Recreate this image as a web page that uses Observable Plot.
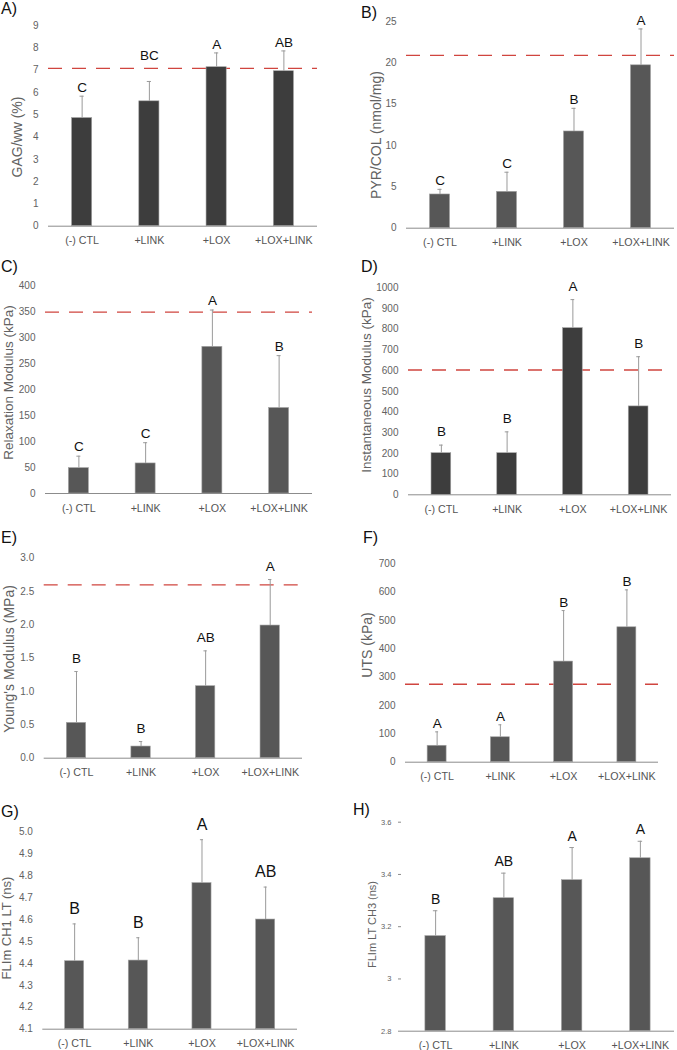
<!DOCTYPE html>
<html>
<head>
<meta charset="utf-8">
<script src="https://cdn.jsdelivr.net/npm/d3@7"></script>
<script src="https://cdn.jsdelivr.net/npm/@observablehq/plot@0.6"></script>
<style>
  body { margin: 0; background: #fff; }
  #fig { position: relative; width: 677px; height: 1050px; overflow: hidden; font-family: "Liberation Sans", Arial, sans-serif; }
  .panel { position: absolute; }
  #labels { position: absolute; left: 0; top: 0; pointer-events: none; }
</style>
</head>
<body>
<div id="fig"></div>
<script>
// ---------- data ----------
const groups = ["(-) CTL", "+LINK", "+LOX", "+LOX+LINK"];

const gagMean = [4.85, 5.6, 7.13, 6.95];
const gagSD = [0.98, 0.89, 0.64, 0.91];
const gagLetters = ["C", "BC", "A", "AB"];
const gagRef = 7.08;
const gagTicks = [0, 1, 2, 3, 4, 5, 6, 7, 8, 9];

const pyrMean = [4.08, 4.4, 11.7, 19.7];
const pyrSD = [0.62, 2.37, 2.8, 4.4];
const pyrLetters = ["C", "C", "B", "A"];
const pyrRef = 20.9;
const pyrTicks = [0, 5, 10, 15, 20, 25];

const relaxMean = [49, 58, 283, 165];
const relaxSD = [23, 40, 71, 101];
const relaxLetters = ["C", "C", "A", "B"];
const relaxRef = 350;
const relaxTicks = [0, 50, 100, 150, 200, 250, 300, 350, 400];

const instMean = [201, 201, 805, 427];
const instSD = [39, 103, 138, 240];
const instLetters = ["B", "B", "A", "B"];
const instRef = 603;
const instTicks = [0, 100, 200, 300, 400, 500, 600, 700, 800, 900, 1000];

const youngMean = [0.53, 0.175, 1.08, 1.99];
const youngSD = [0.77, 0.075, 0.53, 0.69];
const youngLetters = ["B", "B", "AB", "A"];
const youngRef = 2.6;
const youngTicks = [0, 0.5, 1, 1.5, 2, 2.5, 3];

const utsMean = [58, 88, 355, 476];
const utsSD = [49, 44, 180, 132];
const utsLetters = ["A", "A", "B", "B"];
const utsRef = 275;
const utsTicks = [0, 100, 200, 300, 400, 500, 600, 700];

const ch1Mean = [4.41, 4.413, 4.766, 4.6];
const ch1SD = [0.17, 0.104, 0.198, 0.148];
const ch1Letters = ["B", "B", "A", "AB"];
const ch1Ticks = [4.1, 4.2, 4.3, 4.4, 4.5, 4.6, 4.7, 4.8, 4.9, 5.0];

const ch3Mean = [3.164, 3.309, 3.378, 3.462];
const ch3SD = [0.097, 0.096, 0.125, 0.065];
const ch3Letters = ["B", "AB", "A", "A"];
const ch3Ticks = [2.8, 3.0, 3.2, 3.4, 3.6];

// ---------- panel configuration ----------
const dark = "#3d3d3d", mid = "#575757";
const f0 = d3.format("d"), f1 = d3.format(".1f"), fg = d => String(+d.toFixed(1));

const panels = [
  {label: "A)", lx: 1, ly: 13.5, left: 0, top: 0, w: 338, h: 265, mL: 48, mT: 25, mB: 39.3, mR: 21,
   mean: gagMean, sd: gagSD, letters: gagLetters, ref: gagRef, ticks: gagTicks, domain: [0, 9], fmt: f0,
   fill: dark, title: "GAG/ww (%)", tx: 22, ty: 137, tsize: 14, gap: 4, lsize: 13.5, lift: [0, 17, 0, 0]},
  {label: "B)", lx: 361, ly: 18, left: 338, top: 0, w: 339, h: 265, mL: 68, mT: 21, mB: 37.3, mR: 3,
   mean: pyrMean, sd: pyrSD, letters: pyrLetters, ref: pyrRef, ticks: pyrTicks, domain: [0, 25], fmt: f0,
   fill: mid, title: "PYR/COL (nmol/mg)", tx: 42.5, ty: 135, tsize: 14, gap: 4, lsize: 13.5},
  {label: "C)", lx: 1, ly: 271.5, left: 0, top: 265, w: 338, h: 265, mL: 45, mT: 20.7, mB: 37, mR: 26,
   mean: relaxMean, sd: relaxSD, letters: relaxLetters, ref: relaxRef, ticks: relaxTicks, domain: [0, 400], fmt: f0,
   fill: mid, title: "Relaxation Modulus (kPa)", tx: 12.5, ty: 117.5, tsize: 13.5, gap: 5, lsize: 13.5},
  {label: "D)", lx: 361, ly: 271.5, left: 338, top: 265, w: 339, h: 265, mL: 70, mT: 22.3, mB: 35.7, mR: 6,
   mean: instMean, sd: instSD, letters: instLetters, ref: instRef, ticks: instTicks, domain: [0, 1000], fmt: f0,
   fill: dark, title: "Instantaneous Modulus (kPa)", tx: 32.5, ty: 120, tsize: 13.5, gap: 9, lsize: 13.5},
  {label: "E)", lx: 1, ly: 543, left: 0, top: 530, w: 338, h: 260, mL: 43.7, mT: 27.7, mB: 32.3, mR: 36,
   mean: youngMean, sd: youngSD, letters: youngLetters, ref: youngRef, ticks: youngTicks, domain: [0, 3], fmt: f1,
   fill: mid, title: "Young's Modulus (MPa)", tx: 14, ty: 129, tsize: 14, gap: 9, lsize: 13.5},
  {label: "F)", lx: 363, ly: 543, left: 338, top: 530, w: 339, h: 260, mL: 67, mT: 33.3, mB: 28.3, mR: 19,
   mean: utsMean, sd: utsSD, letters: utsLetters, ref: utsRef, ticks: utsTicks, domain: [0, 700], fmt: f0,
   fill: mid, title: "UTS (kPa)", tx: 34, ty: 115, tsize: 14, gap: 4, lsize: 13.5},
  {label: "G)", lx: 1, ly: 816.5, left: 0, top: 790, w: 338, h: 260, mL: 42.3, mT: 41.3, mB: 21.3, mR: 41,
   mean: ch1Mean, sd: ch1SD, letters: ch1Letters, ref: null, ticks: ch1Ticks, domain: [4.1, 5.0], fmt: f1,
   fill: mid, title: "FLIm CH1 LT (ns)", tx: 10.5, ty: 138, tsize: 13, gap: 10, lsize: 16},
  {label: "H)", lx: 353, ly: 814.5, left: 338, top: 790, w: 339, h: 260, mL: 63, mT: 31.7, mB: 19.3, mR: 3,
   mean: ch3Mean, sd: ch3SD, letters: ch3Letters, ref: null, ticks: ch3Ticks, domain: [2.8, 3.6], fmt: fg,
   fill: mid, title: "FLIm LT CH3 (ns)", tx: 38, ty: 134.5, tsize: 11, gap: 7, lsize: 14,
   ytick: 3, yfont: 7.5}
];

const fig = document.getElementById("fig");
const axisGray = "#8c8c8c";
const errGray = "#9a9a9a";
const textGray = "#626262";

for (const p of panels) {
  const lift = p.lift || [0, 0, 0, 0];
  const data = groups.map((g, i) => ({g, v: p.mean[i], top: p.mean[i] + p.sd[i], letter: p.letters[i], lift: lift[i]}));
  const marks = [];
  if (p.ref != null) {
    marks.push(Plot.ruleY([p.ref], {stroke: "#d0453f", strokeWidth: 1.3, strokeDasharray: "14,10"}));
  }
  marks.push(
    Plot.barY(data, {x: "g", y1: p.domain[0], y2: "v", fill: p.fill, stroke: "#a5a5a5", strokeWidth: 0.6}),
    Plot.ruleX(data, {x: "g", y1: "v", y2: "top", stroke: errGray, strokeWidth: 1}),
    Plot.tickY(data, {x: "g", y: "top", stroke: errGray, strokeWidth: 1, insetLeft: 8, insetRight: 8})
  );
  for (const L of Array.from(new Set(lift))) {
    marks.push(Plot.text(data, {filter: d => d.lift === L, x: "g", y: "top", text: "letter",
      dy: -(p.gap + L), lineAnchor: "bottom", fontSize: p.lsize, fill: "#111"}));
  }
  marks.push(
    Plot.ruleY([p.domain[0]], {stroke: axisGray, strokeWidth: 1}),
    Plot.axisY({ticks: p.ticks, tickFormat: p.fmt, tickSize: p.ytick || 0, tickPadding: p.ytick ? 7 : 10,
      fontSize: p.yfont || 10, fill: textGray, stroke: axisGray, line: true, label: null}),
    Plot.axisX({tickSize: 0, tickPadding: 10.5, fontSize: 10.7, fill: "#555", label: null})
  );
  const svg = Plot.plot({
    width: p.w, height: p.h,
    marginLeft: p.mL, marginRight: p.mR, marginTop: p.mT, marginBottom: p.mB,
    x: {type: "band", domain: groups, paddingInner: 0.7, paddingOuter: 0.35, round: false},
    y: {domain: p.domain, nice: false, zero: false},
    style: {fontFamily: "'Liberation Sans', Arial, sans-serif", background: "transparent", overflow: "visible"},
    marks
  });
  d3.select(svg).append("text")
    .attr("transform", `translate(${p.tx},${p.ty}) rotate(-90)`)
    .attr("text-anchor", "middle")
    .attr("font-size", p.tsize)
    .attr("fill", textGray)
    .text(p.title);
  const div = document.createElement("div");
  div.className = "panel";
  div.style.left = p.left + "px";
  div.style.top = p.top + "px";
  div.appendChild(svg);
  fig.appendChild(div);
}

// panel letters
const ov = d3.select(fig).append("svg").attr("id", "labels").attr("width", 677).attr("height", 1050);
ov.selectAll("text").data(panels).join("text")
  .attr("x", d => d.lx).attr("y", d => d.ly)
  .attr("font-size", 16).attr("fill", "#111")
  .attr("font-family", "'Liberation Sans', Arial, sans-serif")
  .text(d => d.label);
</script>
</body>
</html>
